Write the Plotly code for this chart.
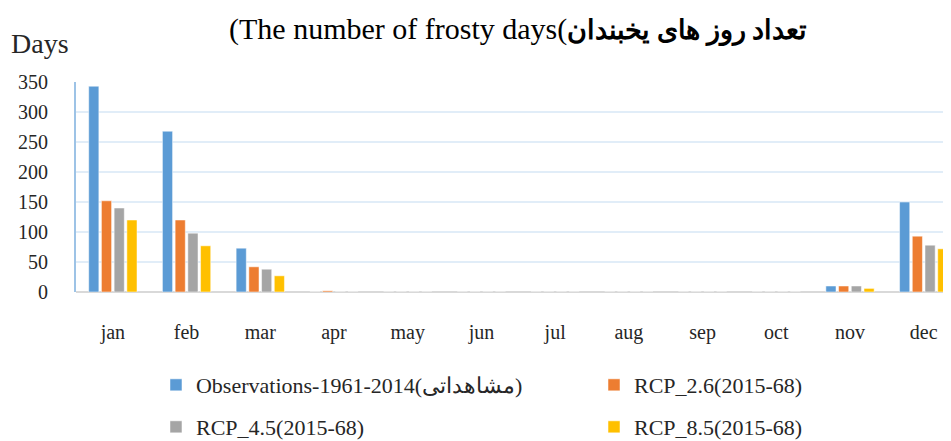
import plotly.graph_objects as go

months = ["jan", "feb", "mar", "apr", "may", "jun", "jul", "aug", "sep", "oct", "nov", "dec"]
obs = [343, 268, 73, 0, 0, 0, 0, 0, 0, 0, 10, 150]
rcp26 = [152, 120, 42, 2, 0, 0, 0, 0, 0, 0, 10, 93]
rcp45 = [140, 98, 38, 0, 0, 0, 0, 0, 0, 0, 10, 78]
rcp85 = [120, 77, 27, 0, 0, 0, 0, 0, 0, 0, 6, 72]
series_names = ["Observations-1961-2014(مشاهداتی)", "RCP_2.6(2015-68)",
                "RCP_4.5(2015-68)", "RCP_8.5(2015-68)"]
colors = ["#5B9BD5", "#ED7D31", "#A5A5A5", "#FFC000"]
legend_ids = ["legend", "legend2", "legend3", "legend4"]
y_ticks = [0, 50, 100, 150, 200, 250, 300, 350]

font = "Liberation Serif, Times New Roman, serif"
fig = go.Figure()
for name, vals, col, lg in zip(series_names, [obs, rcp26, rcp45, rcp85], colors, legend_ids):
    fig.add_trace(go.Bar(x=months, y=vals, name=name, legend=lg,
                         marker=dict(color=col, line=dict(color="rgba(255,255,255,0.5)", width=1))))

leg_common = dict(orientation="h", xanchor="left", yanchor="middle",
                  itemwidth=30, font=dict(size=22, color="#262626"),
                  bgcolor="rgba(0,0,0,0)")
col1, col2 = 0.0914, 0.592
row1, row2 = -0.443, -0.643
fig.update_layout(
    width=951, height=441,
    margin=dict(l=68, r=8, t=74, b=157, autoexpand=False),
    paper_bgcolor="white", plot_bgcolor="white",
    barmode="group", bargap=0.31, bargroupgap=0.2,
    font=dict(family=font, size=20, color="#262626"),
    showlegend=True,
    legend=dict(x=col1, y=row1, **leg_common),
    legend2=dict(x=col2, y=row1, **leg_common),
    legend3=dict(x=col1, y=row2, **leg_common),
    legend4=dict(x=col2, y=row2, **leg_common),
    xaxis=dict(range=[-0.5, 11.37], showgrid=False, showline=False, zeroline=False,
               automargin=False,
               ticks="outside", ticklen=22, tickcolor="rgba(0,0,0,0)",
               tickfont=dict(size=20, color="#262626")),
    yaxis=dict(range=[0, 350], tickvals=y_ticks, showgrid=True, gridcolor="#E1EDF8",
               gridwidth=2, showline=True, linecolor="#9DC3E6", linewidth=2,
               zeroline=True, zerolinecolor="#D9D9D9", zerolinewidth=2, automargin=False,
               ticks="outside", ticklen=22, tickcolor="rgba(0,0,0,0)",
               tickfont=dict(size=20, color="#262626")),
)
fig.add_annotation(xref="paper", yref="paper", x=-0.0765, y=1.185, xanchor="left", yanchor="middle",
                   text="Days", showarrow=False, font=dict(size=28, color="#262626"))
fig.add_annotation(xref="paper", yref="paper", x=0.172, y=1.248, xanchor="left", yanchor="middle",
                   text="\u200e(The number of frosty days(\u200e<b><span style='font-size:27px'>تعداد روز های یخبندان</span></b>",
                   showarrow=False, font=dict(size=30, color="#000000"))
fig.write_html("out.html")
